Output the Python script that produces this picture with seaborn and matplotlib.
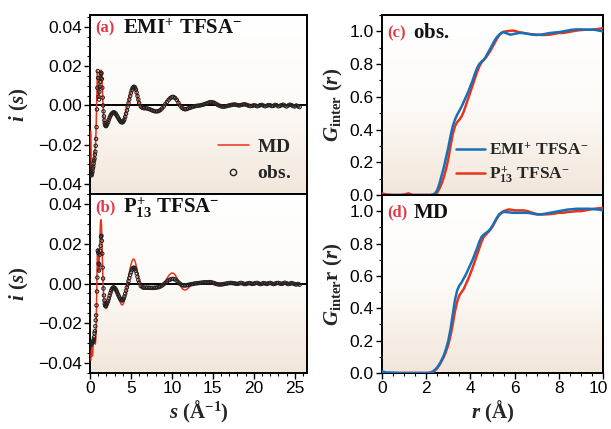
import numpy as np
import pandas as pd
import matplotlib
matplotlib.use("Agg")
import matplotlib.pyplot as plt
import seaborn as sns
from matplotlib.ticker import MultipleLocator
from matplotlib.colors import LinearSegmentedColormap
from matplotlib.lines import Line2D
from matplotlib.transforms import ScaledTranslation

# ---------------- data: i(s) ----------------
s_a = [0.10, 0.15, 0.20, 0.25, 0.30, 0.35, 0.40, 0.45, 0.50, 0.55,
       0.60, 0.65, 0.70, 0.75, 0.80, 0.85, 0.90, 0.95, 1.00, 1.05,
       1.10, 1.15, 1.20, 1.25, 1.30, 1.35, 1.40, 1.45, 1.50, 1.55,
       1.60, 1.65, 1.70, 1.75, 1.80, 1.85, 1.90, 1.95, 2.00]
s_b = [2.1, 2.2, 2.3, 2.4, 2.5, 2.6, 2.7, 2.8, 2.9, 3.0,
       3.1, 3.2, 3.3, 3.4, 3.5, 3.6, 3.7, 3.8, 3.9, 4.0,
       4.1, 4.2, 4.3, 4.4, 4.5, 4.6, 4.7, 4.8, 4.9, 5.0,
       5.1, 5.2, 5.3, 5.4, 5.5, 5.6, 5.7, 5.8, 5.9, 6.0]
s_c = [6.2, 6.4, 6.6, 6.8, 7.0, 7.2, 7.4, 7.6, 7.8, 8.0,
       8.2, 8.4, 8.6, 8.8, 9.0, 9.2, 9.4, 9.6, 9.8, 10.0,
       10.2, 10.4, 10.6, 10.8, 11.0, 11.2, 11.4, 11.6, 11.8, 12.0,
       12.2, 12.4, 12.6, 12.8, 13.0, 13.2, 13.4, 13.6, 13.8, 14.0,
       14.2, 14.4, 14.6, 14.8, 15.0, 15.2, 15.4, 15.6, 15.8, 16.0,
       16.2, 16.4, 16.6, 16.8, 17.0, 17.2, 17.4, 17.6, 17.8, 18.0,
       18.2, 18.4, 18.6, 18.8, 19.0, 19.2, 19.4, 19.6, 19.8, 20.0,
       20.2, 20.4, 20.6, 20.8, 21.0, 21.2, 21.4, 21.6, 21.8, 22.0,
       22.2, 22.4, 22.6, 22.8, 23.0, 23.2, 23.4, 23.6, 23.8, 24.0,
       24.2, 24.4, 24.6, 24.8, 25.0, 25.2, 25.4, 25.6]

emi_obs_a = [-0.034, -0.035, -0.0355, -0.0345, -0.0335, -0.032, -0.031, -0.0295, -0.028, -0.027,
             -0.025, -0.0235, -0.0205, -0.017, -0.011, -0.002, 0.009, 0.0175, 0.014, 0.0045,
             0.003, 0.007, 0.0095, 0.012, 0.014, 0.016, 0.0165, 0.0135, 0.009, 0.004,
             0.0, -0.003, -0.0055, -0.0075, -0.009, -0.0098, -0.0103, -0.0105, -0.0102]
emi_obs_b = [-0.0095, -0.0085, -0.0073, -0.0062, -0.0052, -0.0045, -0.004, -0.0036, -0.0035, -0.0036,
             -0.004, -0.0046, -0.0053, -0.006, -0.0067, -0.0074, -0.008, -0.0084, -0.0086, -0.0085,
             -0.008, -0.0071, -0.0058, -0.0042, -0.0025, -0.0007, 0.0012, 0.003, 0.0048, 0.0064,
             0.0078, 0.0088, 0.0094, 0.0095, 0.0091, 0.0081, 0.0066, 0.0048, 0.003, 0.0013]
emi_obs_c = [-0.0005, -0.0012, -0.0014, -0.0014, -0.0015, -0.0018, -0.0021, -0.0025, -0.0028, -0.003,
             -0.003, -0.0028, -0.0023, -0.0015, -0.0005, 0.0007, 0.0018, 0.0029, 0.0037, 0.0042,
             0.0043, 0.0038, 0.0028, 0.0014, 0.0, -0.0011, -0.0017, -0.0019, -0.0018, -0.0015,
             -0.0012, -0.0009, -0.0006, -0.0004, -0.0002, -0.0001, 0.0, 0.0002, 0.0004, 0.0007,
             0.001, 0.0013, 0.0016, 0.0017, 0.0016, 0.0013, 0.0008, 0.0003, -0.0001, -0.0004,
             -0.0006, -0.0006, -0.0004, -0.0002, 0.0, 0.0002, 0.0004, 0.0005, 0.0004, 0.0002,
             0.0, 0.0002, 0.0004, 0.0006, 0.0005, 0.0002, -0.0001, -0.0003, -0.0002, 0.0001,
             0.0, -0.0004, -0.0002, 0.0002, 0.0003, -0.0001, -0.0004, -0.0001, 0.0002, 0.0001,
             -0.0003, -0.0002, 0.0003, 0.0001, -0.0004, -0.0002, 0.0002, 0.0004, -0.0001, -0.0005,
             0.0, 0.0004, 0.0002, -0.0003, -0.0005, 0.0, -0.0004, -0.0008]

emi_md_a = [-0.013, -0.030, -0.036, -0.0355, -0.034, -0.0325, -0.031, -0.0295, -0.028, -0.0265,
            -0.0245, -0.022, -0.018, -0.011, -0.002, 0.009, 0.0175, 0.015, 0.008, 0.004,
            0.0045, 0.008, 0.012, 0.0155, 0.0175, 0.018, 0.0175, 0.015, 0.0095, 0.004,
            -0.001, -0.0045, -0.007, -0.0088, -0.0099, -0.0106, -0.011, -0.011, -0.0106]
emi_md_b = [-0.0095, -0.0083, -0.007, -0.0058, -0.0048, -0.004, -0.0035, -0.0032, -0.0032, -0.0035,
            -0.0041, -0.0048, -0.0056, -0.0064, -0.0072, -0.0079, -0.0085, -0.0089, -0.009, -0.0088,
            -0.0081, -0.007, -0.0055, -0.0038, -0.002, 0.0, 0.002, 0.0038, 0.0055, 0.007,
            0.0083, 0.0092, 0.0097, 0.0097, 0.0092, 0.0081, 0.0065, 0.0046, 0.0027, 0.0009]
emi_md_c = [-0.0012, -0.0018, -0.0018, -0.0017, -0.0018, -0.0021, -0.0025, -0.0029, -0.0032, -0.0034,
            -0.0034, -0.0031, -0.0025, -0.0016, -0.0004, 0.001, 0.0024, 0.0037, 0.0046, 0.0051,
            0.0051, 0.0045, 0.0033, 0.0016, -0.0002, -0.0016, -0.0024, -0.0026, -0.0024, -0.0019,
            -0.0014, -0.001, -0.0007, -0.0004, -0.0002, 0.0, 0.0002, 0.0004, 0.0006, 0.0009,
            0.0012, 0.0015, 0.0017, 0.0018, 0.0016, 0.0012, 0.0007, 0.0002, -0.0002, -0.0005,
            -0.0006, -0.0006, -0.0004, -0.0002, 0.0, 0.0002, 0.0003, 0.0004, 0.0003, 0.0002,
            0.0001, 0.0002, 0.0003, 0.0004, 0.0003, 0.0001, -0.0001, -0.0002, -0.0002, -0.0001,
            0.0, 0.0001, 0.0001, 0.0, -0.0001, -0.0001, 0.0, 0.0001, 0.0001, 0.0,
            -0.0001, -0.0001, 0.0, 0.0001, 0.0001, 0.0, -0.0001, -0.0001, 0.0, 0.0001,
            0.0, 0.0, -0.0001, -0.0001, 0.0, 0.0, 0.0, 0.0]

p13_obs_a = [-0.031, -0.0305, -0.030, -0.0298, -0.0296, -0.0294, -0.029, -0.0283, -0.027, -0.025,
             -0.024, -0.0215, -0.0185, -0.016, -0.011, -0.004, 0.003, 0.0165, 0.0155, 0.010,
             0.0065, 0.0095, 0.0145, 0.0165, 0.019, 0.0235, 0.024, 0.0215, 0.015, 0.008,
             0.0025, -0.0025, -0.006, -0.0085, -0.0102, -0.011, -0.0113, -0.0112, -0.0105]
p13_obs_b = [-0.0098, -0.0088, -0.0075, -0.0061, -0.0047, -0.0035, -0.0026, -0.0021, -0.002, -0.0022,
             -0.0027, -0.0034, -0.0043, -0.0053, -0.0062, -0.0071, -0.0078, -0.0083, -0.0085, -0.0083,
             -0.0076, -0.0065, -0.0051, -0.0036, -0.002, -0.0004, 0.0012, 0.0028, 0.0043, 0.0056,
             0.0067, 0.0075, 0.0079, 0.0079, 0.0074, 0.0064, 0.005, 0.0034, 0.0018, 0.0004]
p13_obs_c = [-0.0012, -0.0019, -0.0021, -0.0021, -0.0021, -0.0021, -0.0022, -0.0022, -0.0022, -0.0021,
             -0.002, -0.0018, -0.0015, -0.001, -0.0004, 0.0003, 0.001, 0.0016, 0.002, 0.0023,
             0.0023, 0.002, 0.0014, 0.0006, -0.0002, -0.0007, -0.001, -0.001, -0.0009, -0.0007,
             -0.0005, -0.0003, -0.0002, 0.0, 0.0001, 0.0002, 0.0003, 0.0004, 0.0005, 0.0006,
             0.0006, 0.0006, 0.0007, 0.0006, 0.0004, 0.0001, -0.0002, -0.0004, -0.0005, -0.0005,
             -0.0004, -0.0002, -0.0001, 0.0001, 0.0002, 0.0003, 0.0002, 0.0001, -0.0001, -0.0002,
             0.0, 0.0003, 0.0001, -0.0002, -0.0003, 0.0, 0.0002, 0.0001, -0.0002, -0.0001,
             0.0002, 0.0003, 0.0, -0.0003, -0.0001, 0.0002, 0.0, -0.0002, 0.0001, 0.0003,
             0.0, -0.0003, -0.0001, 0.0002, 0.0003, 0.0, -0.0002, 0.0001, 0.0004, 0.0001,
             -0.0003, -0.0001, 0.0002, 0.0, -0.0003, -0.0005, -0.0002, -0.0006]

p13_md_a = [-0.0385, -0.036, -0.031, -0.033, -0.0365, -0.034, -0.030, -0.028, -0.027, -0.0275,
            -0.029, -0.0305, -0.028, -0.021, -0.010, 0.004, 0.0165, 0.0175, 0.011, 0.006,
            0.007, 0.013, 0.021, 0.028, 0.032, 0.032, 0.030, 0.022, 0.012, 0.005,
            -0.001, -0.005, -0.008, -0.010, -0.0113, -0.012, -0.0125, -0.0126, -0.0124]
p13_md_b = [-0.0118, -0.0105, -0.009, -0.0072, -0.0055, -0.004, -0.0028, -0.0019, -0.0015, -0.0017,
            -0.0024, -0.0034, -0.0046, -0.0059, -0.0072, -0.0084, -0.0095, -0.0103, -0.0108, -0.0107,
            -0.0099, -0.0085, -0.0066, -0.0044, -0.002, 0.0004, 0.0029, 0.0053, 0.0075, 0.0094,
            0.0109, 0.0119, 0.0123, 0.0121, 0.0112, 0.0097, 0.0077, 0.0053, 0.0029, 0.0007]
p13_md_c = [-0.0012, -0.0022, -0.0026, -0.0027, -0.0027, -0.0027, -0.0027, -0.0027, -0.0026, -0.0025,
            -0.0024, -0.0022, -0.0018, -0.0011, -0.0001, 0.0012, 0.0026, 0.0039, 0.0048, 0.0053,
            0.0051, 0.0043, 0.0029, 0.0011, -0.0007, -0.0022, -0.0031, -0.0033, -0.003, -0.0023,
            -0.0015, -0.0008, -0.0003, 0.0, 0.0002, 0.0003, 0.0004, 0.0005, 0.0006, 0.0008,
            0.0009, 0.0009, 0.0008, 0.0006, 0.0003, 0.0, -0.0003, -0.0005, -0.0006, -0.0006,
            -0.0005, -0.0003, -0.0001, 0.0001, 0.0002, 0.0003, 0.0003, 0.0002, 0.0, -0.0001,
            -0.0002, -0.0002, -0.0001, 0.0, 0.0001, 0.0001, 0.0001, 0.0, -0.0001, -0.0001,
            0.0, 0.0001, 0.0001, 0.0, -0.0001, 0.0, 0.0001, 0.0001, 0.0, -0.0001,
            -0.0001, 0.0, 0.0001, 0.0001, 0.0, -0.0001, 0.0, 0.0001, 0.0, 0.0,
            -0.0001, 0.0, 0.0001, 0.0, -0.0001, -0.0001, 0.0, 0.0]

# ---------------- data: G_inter(r) ----------------
r_vals = [0.0, 0.2, 0.5, 0.8, 1.0, 1.2, 1.4, 1.7, 2.0, 2.2,
          2.3, 2.4, 2.5, 2.6, 2.7, 2.8, 2.9, 3.0, 3.1, 3.2,
          3.3, 3.4, 3.5, 3.6, 3.7, 3.8, 3.9, 4.0, 4.1, 4.2,
          4.3, 4.4, 4.5, 4.6, 4.7, 4.8, 4.9, 5.0, 5.1, 5.2,
          5.3, 5.4, 5.5, 5.6, 5.7, 5.8, 5.9, 6.0,
          6.2, 6.4, 6.6, 6.8, 7.0, 7.2, 7.4, 7.6, 7.8, 8.0,
          8.2, 8.4, 8.6, 8.8, 9.0, 9.2, 9.4, 9.6, 9.8, 10.0]
g_obs_emi = [0.0, 0.0, 0.0, 0.0, 0.0, 0.0, 0.0, 0.0, 0.0, 0.0,
             0.003, 0.01, 0.03, 0.07, 0.12, 0.17, 0.23, 0.29, 0.36, 0.42,
             0.46, 0.49, 0.515, 0.54, 0.57, 0.60, 0.63, 0.665, 0.70, 0.74,
             0.775, 0.80, 0.815, 0.825, 0.845, 0.87, 0.895, 0.92, 0.945, 0.965,
             0.98, 0.99, 0.995, 0.99, 0.985, 0.98, 0.982, 0.985,
             0.99, 0.99, 0.985, 0.98, 0.978, 0.98, 0.985, 0.99, 0.993, 0.995,
             1.0, 1.005, 1.01, 1.012, 1.012, 1.01, 1.01, 1.01, 1.005, 1.0]
g_obs_p13 = [0.01, 0.003, 0.0, 0.0, 0.003, 0.01, 0.0, 0.0, 0.0, 0.0,
             0.0, 0.005, 0.015, 0.04, 0.07, 0.11, 0.16, 0.22, 0.30, 0.37,
             0.42, 0.445, 0.46, 0.48, 0.51, 0.55, 0.59, 0.63, 0.67, 0.71,
             0.75, 0.785, 0.81, 0.825, 0.84, 0.86, 0.88, 0.905, 0.93, 0.955,
             0.975, 0.99, 0.998, 1.0, 1.002, 1.003, 1.005, 1.003,
             0.995, 0.99, 0.985, 0.982, 0.98, 0.978, 0.978, 0.98, 0.985, 0.99,
             0.99, 0.995, 1.0, 1.005, 1.008, 1.01, 1.01, 1.012, 1.015, 1.02]
g_md_emi = [0.01, 0.003, 0.002, 0.0, 0.0, 0.0, 0.0, 0.0, 0.0, 0.003,
            0.01, 0.02, 0.035, 0.055, 0.08, 0.11, 0.15, 0.20, 0.27, 0.36,
            0.45, 0.51, 0.54, 0.56, 0.585, 0.61, 0.64, 0.67, 0.70, 0.735,
            0.77, 0.81, 0.84, 0.855, 0.865, 0.875, 0.89, 0.91, 0.935, 0.96,
            0.98, 0.99, 0.995, 0.995, 0.993, 0.992, 0.99, 0.99,
            0.99, 0.99, 0.99, 0.985, 0.98, 0.98, 0.985, 0.99, 0.995, 1.0,
            1.005, 1.01, 1.012, 1.015, 1.015, 1.015, 1.015, 1.012, 1.01, 1.005]
g_md_p13 = [0.0, 0.0, 0.0, 0.0, 0.0, 0.0, 0.0, 0.0, 0.0, 0.0,
            0.005, 0.015, 0.03, 0.05, 0.075, 0.10, 0.135, 0.175, 0.23, 0.30,
            0.38, 0.44, 0.48, 0.50, 0.52, 0.55, 0.58, 0.615, 0.65, 0.69,
            0.73, 0.77, 0.81, 0.84, 0.855, 0.87, 0.885, 0.905, 0.93, 0.955,
            0.975, 0.99, 1.0, 1.005, 1.01, 1.01, 1.008, 1.005,
            1.005, 1.005, 1.0, 0.99, 0.982, 0.98, 0.98, 0.982, 0.985, 0.99,
            0.99, 0.995, 0.997, 1.0, 1.0, 1.005, 1.01, 1.015, 1.018, 1.02]

# ---------------- style ----------------
sns.set_theme(style="ticks")
plt.rcParams.update({
    "font.family": ["Liberation Sans", "DejaVu Sans"],
    "mathtext.fontset": "custom",
    "mathtext.rm": "Liberation Serif:bold",
    "mathtext.it": "Liberation Serif:italic:bold",
    "mathtext.bf": "Liberation Serif:bold",
    "axes.linewidth": 1.4,
    "axes.edgecolor": "black",
    "xtick.color": "black",
    "ytick.color": "black",
})

RED = "#e8341c"
BLUE = "#1670b8"
LETTER = "#e23a4a"

s_all = s_a + s_b + s_c
df_emi = pd.DataFrame({"s": s_all, "obs": emi_obs_a + emi_obs_b + emi_obs_c,
                       "md": emi_md_a + emi_md_b + emi_md_c})
df_p13 = pd.DataFrame({"s": s_all, "obs": p13_obs_a + p13_obs_b + p13_obs_c,
                       "md": p13_md_a + p13_md_b + p13_md_c})
df_g = pd.DataFrame({"r": r_vals, "obs_emi": g_obs_emi, "obs_p13": g_obs_p13,
                     "md_emi": g_md_emi, "md_p13": g_md_p13})

fig = plt.figure(figsize=(6.11, 4.29), dpi=100)
W, H = 611.0, 429.0


def axes_px(x0, y0, x1, y1):
    return fig.add_axes([x0 / W, 1 - y1 / H, (x1 - x0) / W, (y1 - y0) / H])


ax_a = axes_px(90, 15, 307, 194)
ax_b = axes_px(90, 194, 307, 373)
ax_c = axes_px(382, 15, 603, 195)
ax_d = axes_px(382, 195, 603, 373)

bg_cmap = LinearSegmentedColormap.from_list("bg", ["#ffffff", "#fdfbf8", "#f2e6da"])


def add_bg(ax):
    grad = np.linspace(0, 1, 256).reshape(-1, 1)
    ax.imshow(grad, aspect="auto", cmap=bg_cmap, extent=[0, 1, 0, 1],
              transform=ax.transAxes, zorder=0, origin="upper")


def style_ax(ax, fs):
    ax.tick_params(which="major", direction="out", length=4, width=1.0, labelsize=fs, pad=2)
    ax.tick_params(which="minor", direction="out", length=2.5, width=0.8)
    ax.tick_params(top=False, right=False)


for ax, df, name, letter in [(ax_a, df_emi, r"$\mathrm{EMI^{+}\ TFSA^{-}}$", "(a)"),
                              (ax_b, df_p13, r"$\mathrm{P_{13}^{\!+}\ TFSA^{-}}$", "(b)")]:
    add_bg(ax)
    ax.axhline(0, color="black", lw=1.4, zorder=2)
    sns.lineplot(data=df, x="s", y="md", ax=ax, color=RED, lw=1.1, sort=False, zorder=3)
    sns.scatterplot(data=df, x="s", y="obs", ax=ax, marker="o", s=6,
                    facecolors="none", edgecolor="#222222", linewidth=0.75, zorder=4)
    ax.set_xlim(0, 26.5)
    ax.set_ylim(-0.045, 0.046)
    ax.xaxis.set_major_locator(MultipleLocator(5))
    ax.xaxis.set_minor_locator(MultipleLocator(1))
    ax.yaxis.set_major_locator(MultipleLocator(0.02))
    ax.yaxis.set_minor_locator(MultipleLocator(0.005))
    ax.yaxis.set_major_formatter(matplotlib.ticker.FuncFormatter(
        lambda v, p: ("\u2212" if v < -1e-9 else "") + f"{abs(v):.2f}"))
    style_ax(ax, 12.5)
    ax.set_ylabel(r"$i\ (s)$", fontsize=15, labelpad=5)
    ax.text(0.025, 0.925, letter, transform=ax.transAxes, color=LETTER,
            fontsize=12, fontweight="bold", family="Liberation Serif", va="center", ha="left")
    ax.text(0.152, 0.925, name, transform=ax.transAxes, color="#111111",
            fontsize=15, va="center", ha="left")

ax_b.set_ylim(-0.045, 0.045)
ax_a.set_xlabel("")
ax_a.tick_params(axis="x", which="both", bottom=False, labelbottom=False)
ax_b.set_xlabel(r"$s\ (\mathrm{\AA}^{-1})$", fontsize=15, labelpad=2)

leg_handles = [Line2D([], [], color=RED, lw=1.1),
               Line2D([], [], ls="", marker="o", mfc="none", mec="#222222", ms=4.5, mew=1.0)]
ax_a.legend(leg_handles, [r"$\mathrm{MD}$", r"$\mathrm{obs.}$"], loc="lower right",
            bbox_to_anchor=(0.98, 0.0), frameon=False, fontsize=14, handlelength=1.6,
            handletextpad=0.4, labelspacing=0.45, borderaxespad=0.2)

for ax, c1, c2, name, letter, ylab in [
        (ax_c, "obs_emi", "obs_p13", r"$\mathrm{obs.}$", "(c)", r"$G_{\mathrm{inter}}\ (r)$"),
        (ax_d, "md_emi", "md_p13", r"$\mathrm{MD}$", "(d)", r"$G_{\mathrm{inter}}\mathrm{r}\ (r)$")]:
    add_bg(ax)
    sns.lineplot(data=df_g, x="r", y=c2, ax=ax, color=RED, lw=1.8, sort=False, zorder=3)
    sns.lineplot(data=df_g, x="r", y=c1, ax=ax, color=BLUE, lw=1.8, sort=False, zorder=4)
    ax.set_xlim(0, 10)
    ax.set_ylim(0, 1.1)
    ax.xaxis.set_major_locator(MultipleLocator(2))
    ax.xaxis.set_minor_locator(MultipleLocator(0.5))
    ax.yaxis.set_major_locator(MultipleLocator(0.2))
    ax.yaxis.set_minor_locator(MultipleLocator(0.1))
    ax.yaxis.set_major_formatter(matplotlib.ticker.FormatStrFormatter("%.1f"))
    style_ax(ax, 12.5)
    ax.set_ylabel(ylab, fontsize=15, labelpad=3)
    ax.text(0.025, 0.90, letter, transform=ax.transAxes, color=LETTER,
            fontsize=12, fontweight="bold", family="Liberation Serif", va="center", ha="left")
    ax.text(0.14, 0.90, name, transform=ax.transAxes, color="#111111",
            fontsize=15, va="center", ha="left")

ax_c.set_xlabel("")
ax_c.tick_params(axis="x", which="both", bottom=False, labelbottom=False)
ax_d.set_xlabel(r"$r\ (\mathrm{\AA})$", fontsize=15, labelpad=2)

g_handles = [Line2D([], [], color=BLUE, lw=1.8), Line2D([], [], color=RED, lw=1.8)]
ax_c.legend(g_handles, [r"$\mathrm{EMI^{+}\ TFSA^{-}}$", r"$\mathrm{P_{13}^{\!+}\ TFSA^{-}}$"],
            loc="lower right", bbox_to_anchor=(0.98, 0.0), frameon=False, fontsize=12.5,
            handlelength=1.7, handletextpad=0.2, labelspacing=0.35, borderaxespad=0.2)

# nudge the last r tick label ("10") so it stays inside the figure edge
fig.canvas.draw()
for tick in ax_d.xaxis.get_major_ticks():
    if abs(tick.get_loc() - 10) < 1e-6:
        tick.label1.set_transform(tick.label1.get_transform()
                                  + ScaledTranslation(-3.5 / 72, 0, fig.dpi_scale_trans))

fig.savefig("out.png", dpi=100)
